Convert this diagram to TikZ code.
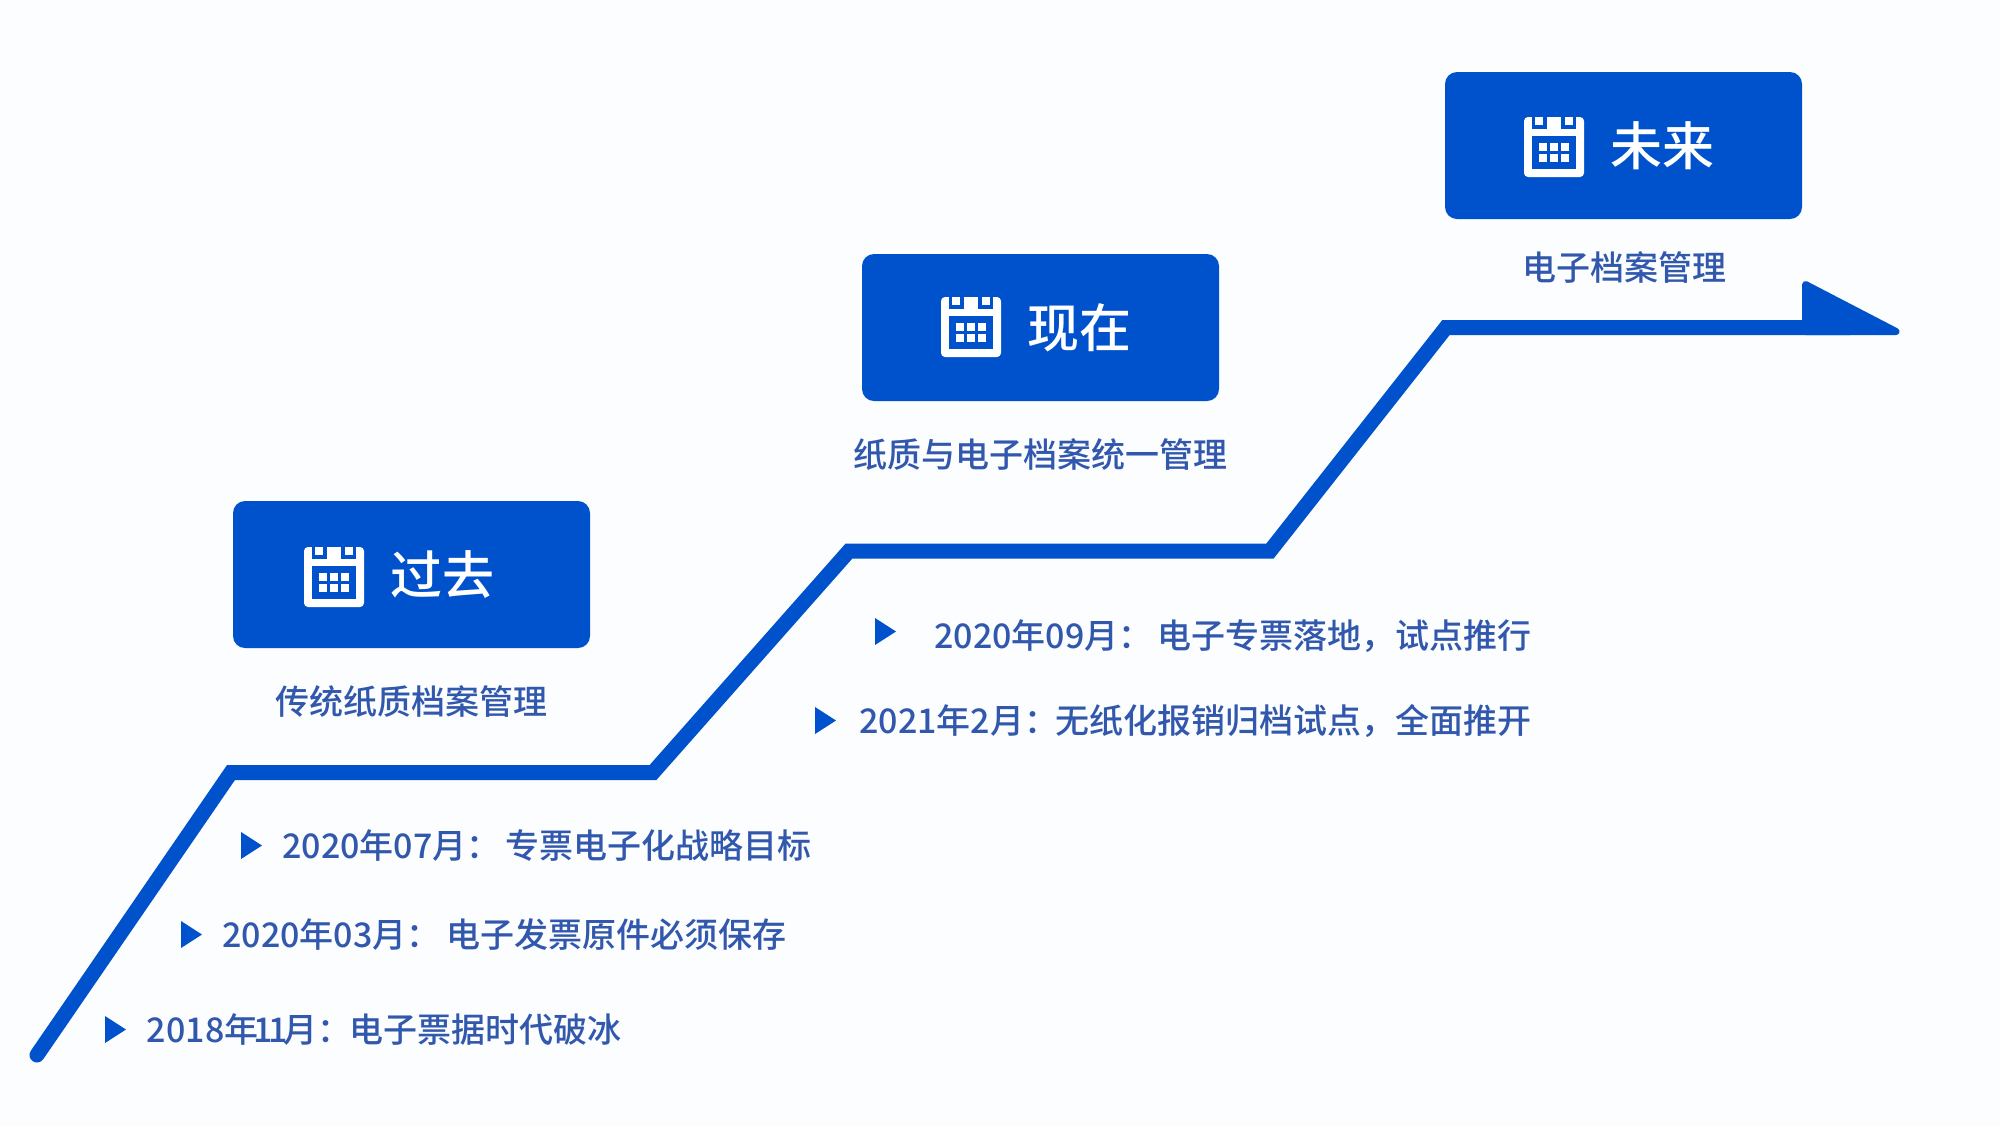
\documentclass[tikz,border=0pt]{standalone}
\usepackage{fontspec}
\setmainfont{Noto Sans CJK SC Medium}
\usetikzlibrary{positioning}
\definecolor{stage blue}{HTML}{0052CC}
\definecolor{item blue}{HTML}{3158AC}
\definecolor{page white}{HTML}{FBFDFF}
\tikzstyle{stagebox}=[fill=stage blue,rounded corners=6pt,minimum width=178.5pt,minimum height=73.5pt,inner sep=0]
\tikzstyle{stagetitle}=[text=white,font=\fontsize{26pt}{30pt}\selectfont,inner sep=0]
\tikzstyle{stagelabel}=[text=item blue,font=\fontsize{17pt}{20pt}\selectfont,inner sep=0,text height=13pt,text depth=3pt]
\tikzstyle{item}=[text=item blue,font=\fontsize{17pt}{20pt}\selectfont,inner sep=0,anchor=west,text height=13pt,text depth=3pt]
\tikzset{
  pics/calendar/.style={code={
    \fill[white,rounded corners=2pt] (0,0) rectangle (60,60);
    \fill[stage blue] (7.7,0) rectangle (52.3,12);
    \fill[stage blue] (7.7,19) rectangle (52.3,52.3);
    \fill[white] (11,0) rectangle (18.7,7.7);
    \fill[white] (22.7,0) rectangle (37.3,12);
    \fill[white] (41.3,0) rectangle (49,7.7);
    \foreach \cx in {15,26.2,37.4}
      \foreach \cy in {26,37.3}
        \fill[white] (\cx,\cy) rectangle ++(7.7,7.7);
  }},
  pics/bullet/.style={code={
    \fill[stage blue] (0,0) -- (21,13.5) -- (0,27) -- cycle;
  }},
}
\begin{document}
\begin{tikzpicture}[
  x=0.5pt,y=-0.5pt,
  stair/.style={draw=stage blue,line width=7.5pt,line cap=round,line join=miter},
]
  \fill[page white] (0,0) rectangle (2000,1126);
  \useasboundingbox (0,0) rectangle (2000,1126);

  \coordinate (s0) at (37,1055);
  \coordinate (s1) at (231,772.5);
  \coordinate (s2) at (653,772.5);
  \coordinate (s3) at (849,551);
  \coordinate (s4) at (1270,551);
  \coordinate (s5) at (1446,327.5);
  \coordinate (s6) at (1850,327.5);
  \draw[stair] (s0) -- (s1) -- (s2) -- (s3) -- (s4) -- (s5) -- (s6);
  \filldraw[stage blue,line width=3.5pt,line join=round] (1805.5,284.5) -- (1896,331.5) -- (1805.5,331.5) -- cycle;

  \node[stagebox] (past) at (411.5,574.5) {};
  \node[stagebox] (now) at (1040.5,327.5) {};
  \node[stagebox] (future) at (1623.5,145.5) {};

  \pic at (304,547) {calendar};
  \pic at (941,297) {calendar};
  \pic at (1524,117) {calendar};

  \node[stagetitle] (pasttitle) at (442,575) {过去};
  \node[stagetitle] (nowtitle) at (1079,328) {现在};
  \node[stagetitle] (futuretitle) at (1662,146) {未来};

  \node[stagelabel,below=20pt of past] (pastlabel) {传统纸质档案管理};
  \node[stagelabel,below=19.8pt of now] (nowlabel) {纸质与电子档案统一管理};
  \node[stagelabel,below=17.3pt of future,xshift=0.5pt] (futurelabel) {电子档案管理};

  \pic at (105,1016) {bullet};
  \pic at (181,921) {bullet};
  \pic at (241,832) {bullet};
  \pic at (875,618) {bullet};
  \pic at (815,707) {bullet};

  \node[item] (nov18) at (146.5,1032.5) {2018年\kern-2.5pt 1\kern-2pt 1\kern-2.5pt 月：\kern-1pt 电子票据时代破冰};
  \node[item] (mar20) at (222,937.5) {2020年03月：\kern3pt 电子发票原件必须保存};
  \node[item] (jul20) at (282,848.5) {2020年07月：\kern2.4pt 专票电子化战略目标};
  \node[item] (sep20) at (934,638.5) {2020年09月：\kern2.6pt 电子专票落地，试点推行};
  \node[item] (feb21) at (859,723.5) {2021年2月：\kern-1.2pt 无纸化报销归档试点，全面推开};
\end{tikzpicture}
\end{document}
